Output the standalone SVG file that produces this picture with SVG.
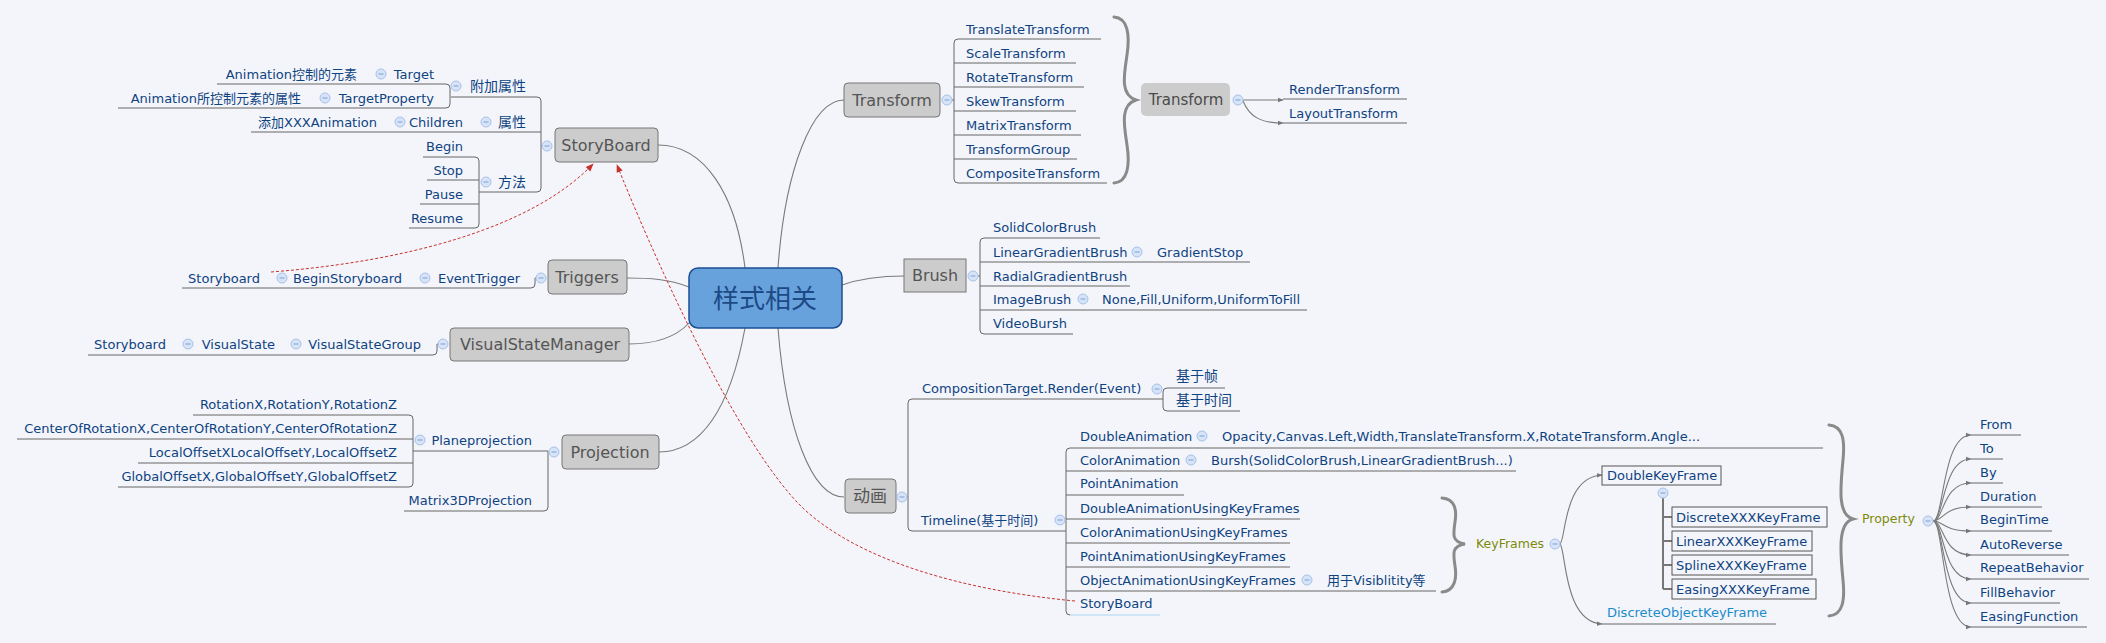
<svg xmlns="http://www.w3.org/2000/svg" xmlns:xlink="http://www.w3.org/1999/xlink" width="2106" height="643" viewBox="0 0 2106 643">
<style>
text{font-family:"DejaVu Sans","Noto Sans CJK SC",sans-serif}
.t{font-size:13px;fill:#0e4382}
.cj{font-size:14px}
.e{text-anchor:end}
.n{font-size:16px;fill:#555;text-anchor:middle}
.o{font-size:12.5px;fill:#7d8a0a}
.ln{fill:none;stroke:#666;stroke-width:1}
.cn{fill:none;stroke:#7a7a7a;stroke-width:1.1}
.nd{fill:#cccccc;stroke:#777;stroke-width:1}
.bx{fill:#f4f5fa;stroke:#555;stroke-width:1}
.br{fill:none;stroke:#8a8a8a;stroke-width:3;stroke-linecap:round}
.rel{fill:none;stroke:#c8302c;stroke-width:1;stroke-dasharray:3,2}
</style>
<defs>
<g id="cb"><circle r="5" fill="#d7e4f7" stroke="#a6c1ea" stroke-width="1"/><path d="M-2.5,0H2.5" stroke="#7c9fd6" stroke-width="1"/></g>
<marker id="ag" viewBox="0 0 10 10" refX="9" refY="5" markerWidth="6" markerHeight="6" markerUnits="userSpaceOnUse" orient="auto"><path d="M0,1L10,5L0,9z" fill="#777"/></marker>
<marker id="ar" viewBox="0 0 10 10" refX="9" refY="5" markerWidth="8" markerHeight="8" markerUnits="userSpaceOnUse" orient="auto"><path d="M0,1L10,5L0,9z" fill="#c8302c"/></marker>
</defs>
<rect width="2106" height="643" fill="#f4f5fa"/>

<g id="connectors">
<path class="cn" d="M745,268 C736,195 705,145 658,145"/>
<path class="cn" d="M778,268 C785,170 812,100 844,100"/>
<path class="cn" d="M689,287 C668,279 650,278 627,278"/>
<path class="cn" d="M689,323 C676,337 655,344 629,344"/>
<path class="cn" d="M745,328 C730,410 700,452 659,452"/>
<path class="cn" d="M778,328 C786,430 812,497 844,497"/>
<path class="cn" d="M842,285 C862,278 880,276 904,276"/>
<path class="cn" d="M1243,100 H1283" marker-end="url(#ag)"/>
<path class="cn" d="M1243,101 C1250,118 1262,123 1283,123" marker-end="url(#ag)"/>
<path class="cn" d="M1560,544 C1566,540 1563,477 1602,475" marker-end="url(#ag)"/>
<path class="cn" d="M1560,544 C1566,548 1563,622 1602,624" marker-end="url(#ag)"/>
<path class="cn" d="M1933,521 C1944,521 1942,435 1971,435" marker-end="url(#ag)"/>
<path class="cn" d="M1933,521 C1944,521 1942,459 1971,459" marker-end="url(#ag)"/>
<path class="cn" d="M1933,521 C1944,521 1942,483 1971,483" marker-end="url(#ag)"/>
<path class="cn" d="M1933,521 C1944,521 1942,507 1971,507" marker-end="url(#ag)"/>
<path class="cn" d="M1933,521 C1944,521 1942,531 1971,531" marker-end="url(#ag)"/>
<path class="cn" d="M1933,521 C1944,521 1942,555 1971,555" marker-end="url(#ag)"/>
<path class="cn" d="M1933,521 C1944,521 1942,579 1971,579" marker-end="url(#ag)"/>
<path class="cn" d="M1933,521 C1944,521 1942,603 1971,603" marker-end="url(#ag)"/>
<path class="cn" d="M1933,521 C1944,521 1942,627 1971,627" marker-end="url(#ag)"/>
<path class="rel" d="M271,272 C400,262 530,230 593,164" marker-end="url(#ar)"/>
<path class="rel" d="M1075,601 C960,590 860,560 805,510 C735,445 645,235 617,165" marker-end="url(#ar)"/>
</g>

<g id="center">
<rect x="689" y="268" width="153" height="60" rx="9" fill="#68a2dd" stroke="#1b4f93" stroke-width="1.5"/>
<text x="765" y="308" style="font-size:26px;fill:#1c4a86;text-anchor:middle">样式相关</text>
</g>

<g id="storyboard">
<rect class="nd" x="555" y="128" width="103" height="34" rx="4"/>
<text class="n" x="606" y="151">StoryBoard</text>
<path class="ln" d="M451,97 H537 Q541,97 541,101 V188 Q541,192 537,192 H479"/>
<path class="ln" d="M251,132 H541 M541,146 H542"/>
<path class="ln" d="M217,84 H446 Q450,84 450,88 V104 Q450,108 446,108 H118"/>
<path class="ln" d="M423,157 H475 Q479,157 479,161 V224 Q479,228 475,228 H409 M427,180 H479 M420,204 H479"/>
<text class="t cj e" x="526" y="91">附加属性</text>
<text class="t e" x="434" y="79">Target</text>
<text class="t e" x="357" y="79">Animation控制的元素</text>
<text class="t e" x="434" y="103">TargetProperty</text>
<text class="t e" x="301" y="103">Animation所控制元素的属性</text>
<text class="t cj e" x="526" y="127">属性</text>
<text class="t e" x="463" y="127">Children</text>
<text class="t e" x="377" y="127">添加XXXAnimation</text>
<text class="t cj e" x="526" y="187">方法</text>
<text class="t e" x="463" y="151">Begin</text>
<text class="t e" x="463" y="175">Stop</text>
<text class="t e" x="463" y="199">Pause</text>
<text class="t e" x="463" y="223">Resume</text>
<use href="#cb" x="547" y="146"/><use href="#cb" x="456" y="86"/><use href="#cb" x="381" y="74"/><use href="#cb" x="325" y="98"/><use href="#cb" x="486" y="122"/><use href="#cb" x="400" y="122"/><use href="#cb" x="486" y="182"/>
</g>

<g id="triggers">
<rect class="nd" x="548" y="260" width="79" height="34" rx="4"/>
<text class="n" x="587" y="283">Triggers</text>
<path class="ln" d="M182,288 H531 Q535,288 535,284 V278 H536"/>
<text class="t e" x="520" y="283">EventTrigger</text>
<text class="t e" x="402" y="283">BeginStoryboard</text>
<text class="t e" x="260" y="283">Storyboard</text>
<use href="#cb" x="541" y="278"/><use href="#cb" x="425" y="278"/><use href="#cb" x="282" y="278"/>
</g>

<g id="visualstatemanager">
<rect class="nd" x="450" y="328" width="179" height="33" rx="4"/>
<text class="n" x="540" y="350">VisualStateManager</text>
<path class="ln" d="M88,355 H433 Q437,355 437,351 V344 H438"/>
<text class="t e" x="421" y="349">VisualStateGroup</text>
<text class="t e" x="275" y="349">VisualState</text>
<text class="t e" x="166" y="349">Storyboard</text>
<use href="#cb" x="443" y="344"/><use href="#cb" x="296" y="344"/><use href="#cb" x="188" y="344"/>
</g>

<g id="projection">
<rect class="nd" x="562" y="435" width="97" height="34" rx="4"/>
<text class="n" x="610" y="458">Projection</text>
<path class="ln" d="M413,451 H548 V507 Q548,511 544,511 H404"/>
<path class="ln" d="M193,415 H409 Q413,415 413,419 V483 Q413,487 409,487 H118 M17,439 H413 M138,463 H413"/>
<text class="t e" x="532" y="445">Planeprojection</text>
<text class="t e" x="532" y="505">Matrix3DProjection</text>
<text class="t e" x="397" y="409">RotationX,RotationY,RotationZ</text>
<text class="t e" x="397" y="433">CenterOfRotationX,CenterOfRotationY,CenterOfRotationZ</text>
<text class="t e" x="397" y="457">LocalOffsetXLocalOffsetY,LocalOffsetZ</text>
<text class="t e" x="397" y="481">GlobalOffsetX,GlobalOffsetY,GlobalOffsetZ</text>
<use href="#cb" x="554" y="452"/><use href="#cb" x="420" y="440"/>
</g>

<g id="transform">
<rect class="nd" x="844" y="83" width="96" height="34" rx="4"/>
<text class="n" x="892" y="106">Transform</text>
<path class="ln" d="M1101,39 H958 Q954,39 954,43 V179 Q954,183 958,183 H1107"/>
<path class="ln" d="M954,63 H1076 M954,87 H1084 M954,111 H1076 M954,135 H1081 M954,159 H1077 M950,100 H954"/>
<text class="t" x="966" y="34">TranslateTransform</text>
<text class="t" x="966" y="58">ScaleTransform</text>
<text class="t" x="966" y="82">RotateTransform</text>
<text class="t" x="966" y="106">SkewTransform</text>
<text class="t" x="966" y="130">MatrixTransform</text>
<text class="t" x="966" y="154">TransformGroup</text>
<text class="t" x="966" y="178">CompositeTransform</text>
<use href="#cb" x="947" y="100"/>
<path class="br" d="M1114,17 C1128,18 1130,35 1127,55 C1124,75 1120,95 1136,100 C1120,105 1124,125 1127,145 C1130,165 1128,182 1114,183"/>
</g>

<g id="transform2">
<rect x="1141" y="83" width="89" height="33" rx="5" fill="#cccccc"/>
<text x="1186" y="105" style="font-size:15px;fill:#4a4a4a;text-anchor:middle">Transform</text>
<use href="#cb" x="1238" y="100"/>
<path class="ln" d="M1283,99 H1407 M1283,123 H1407"/>
<text class="t" x="1289" y="94">RenderTransform</text>
<text class="t" x="1289" y="118">LayoutTransform</text>
</g>

<g id="brush">
<rect class="nd" x="904" y="259" width="62" height="33"/>
<text class="n" x="935" y="281">Brush</text>
<path class="ln" d="M1100,238 H984 Q980,238 980,242 V330 Q980,334 984,334 H1073"/>
<path class="ln" d="M980,262 H1250 M980,286 H1130 M980,310 H1307 M978,276 H980"/>
<text class="t" x="993" y="232">SolidColorBrush</text>
<text class="t" x="993" y="257">LinearGradientBrush</text>
<text class="t" x="1157" y="257">GradientStop</text>
<text class="t" x="993" y="281">RadialGradientBrush</text>
<text class="t" x="993" y="304">ImageBrush</text>
<text class="t" x="1102" y="304">None,Fill,Uniform,UniformToFill</text>
<text class="t" x="993" y="328">VideoBursh</text>
<use href="#cb" x="973" y="276"/><use href="#cb" x="1137" y="252"/><use href="#cb" x="1083" y="299"/>
</g>

<g id="animation">
<rect class="nd" x="845" y="479" width="51" height="34" rx="4"/>
<text class="n" x="870" y="502" style="font-size:17px">动画</text>
<path class="ln" d="M1163,399 H912 Q908,399 908,403 V527 Q908,531 912,531 H1066"/>
<path class="ln" d="M907,497 H908"/>
<path class="ln" d="M1225,388 H1167 Q1163,388 1163,392 V407 Q1163,411 1167,411 H1240"/>
<text class="t" x="922" y="393">CompositionTarget.Render(Event)</text>
<text class="t cj" x="1176" y="381">基于帧</text>
<text class="t cj" x="1176" y="405">基于时间</text>
<text class="t" x="921" y="525">Timeline(基于时间)</text>
<path class="ln" d="M1823,448 H1070 Q1066,448 1066,452 V611 Q1066,615 1070,615"/>
<path d="M1070,615 H1160" fill="none" stroke="#a9d6f2" stroke-width="1.2"/>
<path class="ln" d="M1066,471 H1516 M1066,495 H1184 M1066,519 H1300 M1066,543 H1290 M1066,567 H1290 M1066,591 H1436"/>
<text class="t" x="1080" y="441">DoubleAnimation</text>
<text class="t" x="1222" y="441">Opacity,Canvas.Left,Width,TranslateTransform.X,RotateTransform.Angle...</text>
<text class="t" x="1080" y="465">ColorAnimation</text>
<text class="t" x="1211" y="465">Bursh(SolidColorBrush,LinearGradientBrush...)</text>
<text class="t" x="1080" y="488">PointAnimation</text>
<text class="t" x="1080" y="513">DoubleAnimationUsingKeyFrames</text>
<text class="t" x="1080" y="537">ColorAnimationUsingKeyFrames</text>
<text class="t" x="1080" y="561">PointAnimationUsingKeyFrames</text>
<text class="t" x="1080" y="585">ObjectAnimationUsingKeyFrames</text>
<text class="t" x="1327" y="585">用于Visiblitity等</text>
<text class="t" x="1080" y="608">StoryBoard</text>
<use href="#cb" x="902" y="497"/><use href="#cb" x="1157" y="389"/><use href="#cb" x="1060" y="520"/><use href="#cb" x="1202" y="436"/><use href="#cb" x="1191" y="460"/><use href="#cb" x="1307" y="580"/>
</g>

<g id="keyframes">
<path class="br" d="M1442,498 C1455,499 1457,510 1455,522 C1453,535 1452,542 1465,544 C1452,546 1453,553 1455,566 C1457,578 1455,591 1442,592"/>
<text class="o" x="1476" y="548">KeyFrames</text>
<use href="#cb" x="1555" y="544"/>
<rect class="bx" x="1602" y="466" width="119" height="19"/>
<text class="t" x="1607" y="480">DoubleKeyFrame</text>
<path d="M1663,498 V589 M1663,517 H1672 M1663,541 H1672 M1663,565 H1672 M1663,589 H1672" fill="none" stroke="#777" stroke-width="2"/>
<use href="#cb" x="1663" y="493"/>
<rect class="bx" x="1672" y="507" width="155" height="20"/>
<text class="t" x="1676" y="522">DiscreteXXXKeyFrame</text>
<rect class="bx" x="1672" y="531" width="140" height="20"/>
<text class="t" x="1676" y="546">LinearXXXKeyFrame</text>
<rect class="bx" x="1672" y="555" width="140" height="20"/>
<text class="t" x="1676" y="570">SplineXXXKeyFrame</text>
<rect class="bx" x="1672" y="579" width="144" height="20"/>
<text class="t" x="1676" y="594">EasingXXXKeyFrame</text>
<path class="ln" d="M1602,624 H1776"/>
<text class="t" x="1607" y="617" style="fill:#1a8ccc">DiscreteObjectKeyFrame</text>
</g>

<g id="property">
<path class="br" d="M1829,425 C1843,426 1845,440 1843,460 C1840,490 1838,515 1853,519 C1838,523 1840,550 1843,580 C1845,600 1843,615 1829,616"/>
<text class="o" x="1862" y="523">Property</text>
<use href="#cb" x="1928" y="521"/>
<path class="ln" d="M1971,435 H2021 M1971,459 H2003 M1971,483 H2003 M1971,507 H2042 M1971,531 H2052 M1971,555 H2069 M1971,579 H2089 M1971,603 H2060 M1971,627 H2087"/>
<text class="t" x="1980" y="429">From</text>
<text class="t" x="1980" y="453">To</text>
<text class="t" x="1980" y="477">By</text>
<text class="t" x="1980" y="501">Duration</text>
<text class="t" x="1980" y="524">BeginTime</text>
<text class="t" x="1980" y="549">AutoReverse</text>
<text class="t" x="1980" y="572">RepeatBehavior</text>
<text class="t" x="1980" y="597">FillBehavior</text>
<text class="t" x="1980" y="621">EasingFunction</text>
</g>
</svg>
